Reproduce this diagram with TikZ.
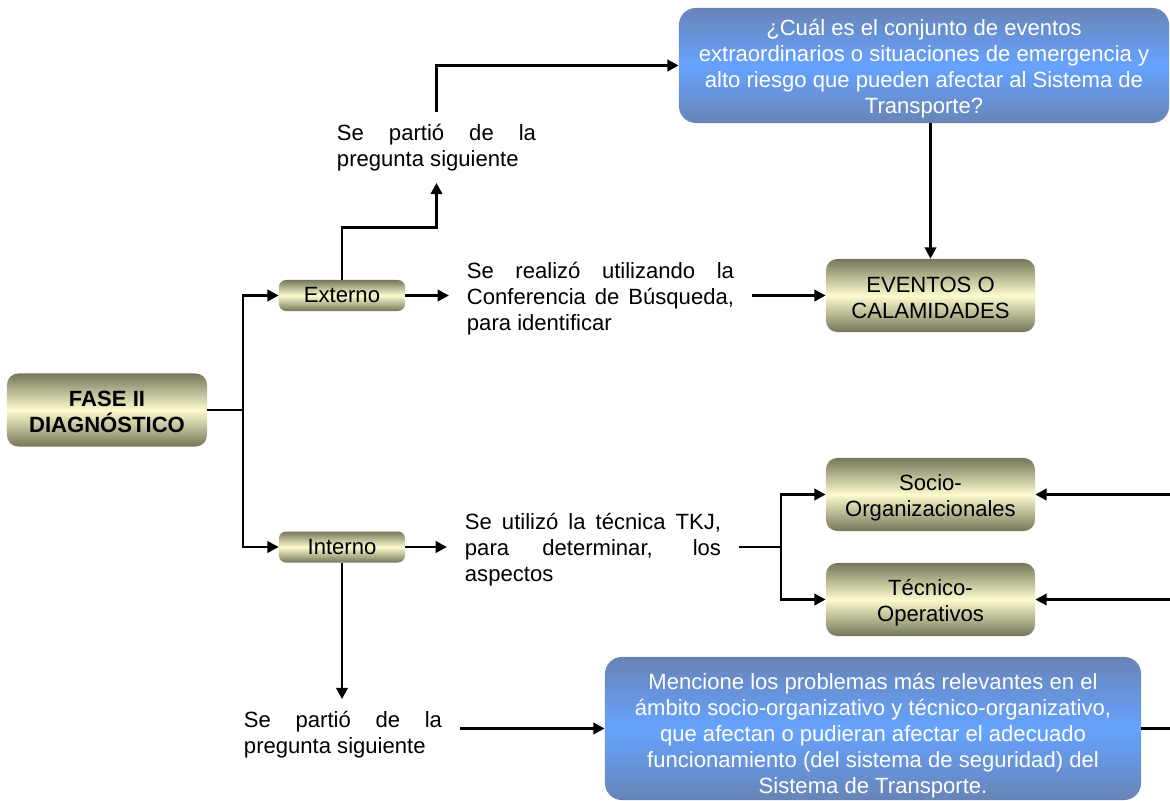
\documentclass[tikz,border=0pt]{standalone}
\usepackage{fontspec}
\setmainfont{Liberation Sans}
\usetikzlibrary{arrows.meta}
\definecolor{olivedark}{RGB}{118,118,90}
\definecolor{olivelight}{RGB}{252,252,206}
\definecolor{bluedark}{RGB}{104,132,182}
\definecolor{bluelight}{RGB}{102,163,255}
\newcommand{\lift}[1]{\rule{0pt}{#1}}

\begin{document}
\begin{tikzpicture}[x=0.025cm, y=-0.025cm, line width=2pt, >={Triangle[length=8pt,width=8pt]}]
 \tikzstyle{every node}=[font=\fontsize{15.7}{18.4}\selectfont, line width=0.4pt]
 \tikzstyle{box}=[rounded corners=5pt, top color=olivedark, bottom color=olivedark, middle color=olivelight, align=center, inner sep=0pt]
 \tikzstyle{ask}=[rounded corners=12pt, top color=bluedark, bottom color=bluedark, middle color=bluelight, text=white, align=center, inner sep=0pt]
 \tikzstyle{txt}=[align=justify, inner sep=0pt, outer xsep=0.45cm, outer ysep=0.3cm]
 \useasboundingbox (0,0) rectangle (1170,801);

 \node[box, rounded corners=8pt, minimum width=5cm, minimum height=1.825cm, font=\fontsize{15.7}{18.4}\selectfont\bfseries] (fase) at (107,410) {\lift{14pt}FASE II\\DIAGNÓSTICO};
 \node[box, minimum width=3.15cm, minimum height=0.775cm] (ext) at (342,295.5) {Externo};
 \node[box, minimum width=3.15cm, minimum height=0.775cm] (int) at (342,547) {Interno};
 \node[box, rounded corners=8pt, minimum width=5.225cm, minimum height=1.825cm] (ev) at (930.5,295.5) {\lift{14.5pt}EVENTOS O\\CALAMIDADES};
 \node[box, rounded corners=8pt, minimum width=5.225cm, minimum height=1.825cm] (so) at (930.5,494.5) {\lift{15.5pt}Socio-\\Organizacionales};
 \node[box, rounded corners=8pt, minimum width=5.225cm, minimum height=1.825cm] (te) at (930.5,599.5) {\lift{15.5pt}Técnico-\\Operativos};
 \node[ask, minimum width=12.25cm, minimum height=2.875cm] (q1) at (924,65.5) {\lift{16.5pt}¿Cuál es el conjunto de eventos\\extraordinarios o situaciones de emergencia y\\alto riesgo que pueden afectar al Sistema de\\Transporte?};
 \node[ask, minimum width=13.4cm, minimum height=3.575cm] (q2) at (873,728.5) {\lift{21.5pt}Mencione los problemas más relevantes en el\\ámbito socio-organizativo y técnico-organizativo,\\que afectan o pudieran afectar el adecuado\\funcionamiento (del sistema de seguridad) del\\Sistema de Transporte.};

 \node[txt, text width=4.975cm] (sp1) at (436.5,147.5) {Se partió de la\linebreak pregunta siguiente};
 \node[txt, text width=6.675cm] (sr) at (600.5,299) {Se realizó utilizando la\linebreak Conferencia de Búsqueda,\linebreak para identificar};
 \node[txt, text width=6.4cm] (su) at (593,550) {Se utilizó la técnica TKJ,\linebreak para determinar, los\linebreak aspectos};
 \node[txt, text width=4.95cm] (sp2) at (343,734.5) {Se partió de la\linebreak pregunta siguiente};

 \coordinate (br) at (243,410);
 \coordinate (bs) at (781,547);
 \coordinate (e1) at (1170,494.5);
 \coordinate (e2) at (1170,599.5);
 \coordinate (e3) at (1170,728.5);

 \draw (fase) -- (br);
 \draw[->] (br) |- (ext);
 \draw[->] (br) |- (int);
 \draw[->] (ext.east) -- (ext.east -| sr.west);
 \draw[->] (sr.east |- ev.west) -- (ev.west);
 \draw[->] (ext.north) -- ++(0,-52) -| (sp1.south);
 \draw[->] (sp1.north) |- (q1);
 \draw[->] (q1.south -| ev.north) -- (ev.north);
 \draw[->] (int.east) -- (int.east -| su.west);
 \draw (su.east |- bs) -- (bs);
 \draw[->] (bs) |- (so);
 \draw[->] (bs) |- (te);
 \draw[->] (e1) -- (so);
 \draw[->] (e2) -- (te);
 \draw[->] (int.south) -- (int.south |- sp2.north);
 \draw[->] (sp2.east |- q2.west) -- (q2.west);
 \draw (q2.east) -- (e3);
\end{tikzpicture}
\end{document}
